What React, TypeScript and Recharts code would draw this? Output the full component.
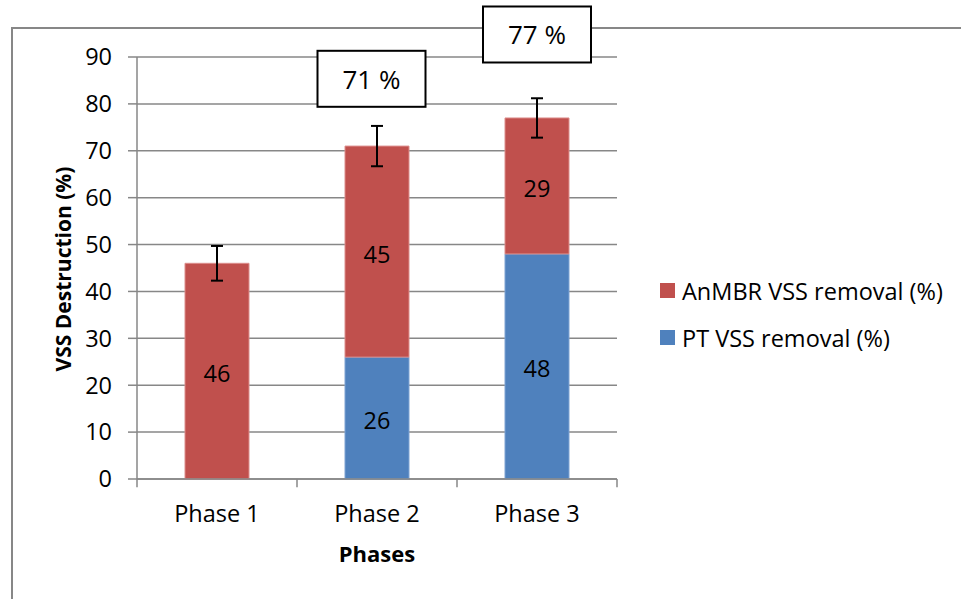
import React from 'react';
import {
  BarChart,
  Bar,
  XAxis,
  YAxis,
  CartesianGrid,
  ErrorBar,
  LabelList,
  Legend,
  ReferenceDot,
  ReferenceLine,
  Label,
} from 'recharts';

// ---- data ----
const phases = ['Phase 1', 'Phase 2', 'Phase 3'];
const ptRemoval = [0, 26, 48];
const anmbrRemoval = [46, 45, 29];
const totalError = [3.7, 4.3, 4.2];
const showTotalBox = [false, true, true];
const yTicks = [0, 10, 20, 30, 40, 50, 60, 70, 80, 90];

const seriesNames = {
  pt: 'PT VSS removal (%)',
  anmbr: 'AnMBR VSS removal (%)',
};

const data = phases.map((p, i) => ({
  phase: p,
  pt: ptRemoval[i],
  anmbr: anmbrRemoval[i],
  err: totalError[i],
}));

// ---- style ----
const RED = '#C0504D';
const BLUE = '#4F81BD';
const GRID = '#878787';
const FONT = '"Open Sans", sans-serif';
const FS = 23.5;

// layout for annotation boxes (y level in axis units, x nudge in px)
const boxLevel = [0, 85.35, 94.8];
const boxNudge = [0, -5.5, 0];

const AnnotationBox = (props: any) => {
  const { cx, cy, text, nudge } = props;
  if (cx == null || cy == null) return null;
  const w = 108;
  const h = 56;
  const x = cx + nudge;
  return (
    <g>
      <rect x={x - w / 2} y={cy - h / 2} width={w} height={h} fill="#fff" stroke="#000" strokeWidth={2} />
      <text
        x={x}
        y={cy}
        textAnchor="middle"
        dominantBaseline="central"
        fontFamily={FONT}
        fontSize={26}
        fill="#000"
      >
        {text}
      </text>
    </g>
  );
};

const renderValueLabel = (props: any) => {
  const { x, y, width, height, value } = props;
  if (!value) return null;
  return (
    <text
      x={x + width / 2}
      y={y + height / 2 + 2}
      textAnchor="middle"
      dominantBaseline="central"
      fontFamily={FONT}
      fontSize={FS}
      fill="#000"
    >
      {value}
    </text>
  );
};

const LegendContent = () => {
  const items = [
    { name: seriesNames.anmbr, color: RED },
    { name: seriesNames.pt, color: BLUE },
  ];
  return (
    <div style={{ fontFamily: FONT, fontSize: FS, color: '#000' }}>
      {items.map((it) => (
        <div key={it.name} style={{ height: 47, display: 'flex', alignItems: 'center', whiteSpace: 'nowrap' }}>
          <span style={{ display: 'inline-block', width: 15, height: 15, background: it.color, marginRight: 7 }} />
          <span>{it.name}</span>
        </div>
      ))}
    </div>
  );
};

const YTitle = (props: any) => {
  const vb = props.viewBox || { x: 0, y: 0, width: 0, height: 0 };
  const cx = vb.x + 63;
  const cy = vb.y + vb.height / 2 + 1;
  return (
    <text
      x={cx}
      y={cy}
      transform={`rotate(-90 ${cx} ${cy})`}
      textAnchor="middle"
      dominantBaseline="central"
      fontFamily={FONT}
      fontWeight="bold"
      fontSize={21}
      fill="#000"
    >
      VSS Destruction (%)
    </text>
  );
};

export default function App() {
  return (
    <div style={{ position: 'fixed', left: 0, top: 0, width: 961, height: 599, background: '#fff', overflow: 'hidden' }}>
      <div
        style={{
          position: 'absolute',
          left: 11,
          top: 27,
          width: 950,
          height: 572,
          borderLeft: `2px solid ${GRID}`,
          borderTop: `2px solid ${GRID}`,
          boxSizing: 'border-box',
        }}
      />
      <div style={{ position: 'absolute', left: 0, top: 0 }}>
        <BarChart
          width={961}
          height={599}
          data={data}
          margin={{ top: 57, right: 44, bottom: 0, left: 0 }}
          barSize={64}
        >
          <CartesianGrid vertical={false} stroke={GRID} strokeWidth={1.5} />
          <XAxis
            dataKey="phase"
            height={120}
            tickLine={false}
            tickSize={0}
            tickMargin={26}
            axisLine={{ stroke: GRID, strokeWidth: 1.5 }}
            tick={{ fontFamily: FONT, fontSize: FS, fill: '#000' }}
          >
            <Label
              value="Phases"
              position="insideBottom"
              offset={37}
              style={{ fontFamily: FONT, fontWeight: 'bold', fontSize: 22, fill: '#000' }}
            />
          </XAxis>
          <YAxis
            width={137}
            domain={[0, 90]}
            ticks={yTicks}
            interval={0}
            tickSize={9}
            tickMargin={16}
            axisLine={{ stroke: GRID, strokeWidth: 1.5 }}
            tickLine={{ stroke: GRID, strokeWidth: 1.5 }}
            tick={{ fontFamily: FONT, fontSize: FS, fill: '#000' }}
          >
            <Label content={<YTitle />} />
          </YAxis>
          <Legend
            layout="vertical"
            align="right"
            verticalAlign="top"
            content={<LegendContent />}
            wrapperStyle={{ position: 'absolute', left: 660, top: 267, width: 300 }}
          />
          <Bar dataKey="pt" name={seriesNames.pt} stackId="a" fill={BLUE} stroke="#7fa3d3" strokeWidth={1} isAnimationActive={false}>
            <LabelList dataKey="pt" content={renderValueLabel} />
          </Bar>
          <Bar dataKey="anmbr" name={seriesNames.anmbr} stackId="a" fill={RED} stroke="#dc8e8c" strokeWidth={1} isAnimationActive={false}>
            <LabelList dataKey="anmbr" content={renderValueLabel} />
            <ErrorBar dataKey="err" width={6} stroke="#000" strokeWidth={2} direction="y" isAnimationActive={false} />
          </Bar>
          {phases.map((p) => (
            <ReferenceLine
              key={`tick-${p}`}
              segment={[{ x: p, y: 0 }, { x: p, y: -1.75 }]}
              position="start"
              stroke={GRID}
              strokeWidth={1.5}
              ifOverflow="visible"
            />
          ))}
          <ReferenceLine
            segment={[{ x: phases[phases.length - 1], y: 0 }, { x: phases[phases.length - 1], y: -1.75 }]}
            position="end"
            stroke={GRID}
            strokeWidth={1.5}
            ifOverflow="visible"
          />
          {phases.map((p, i) =>
            showTotalBox[i] ? (
              <ReferenceDot
                key={`box-${p}`}
                x={p}
                y={boxLevel[i]}
                r={0}
                ifOverflow="visible"
                shape={(sp: any) => (
                  <AnnotationBox {...sp} text={`${ptRemoval[i] + anmbrRemoval[i]} %`} nudge={boxNudge[i]} />
                )}
              />
            ) : null
          )}
        </BarChart>
      </div>
    </div>
  );
}
